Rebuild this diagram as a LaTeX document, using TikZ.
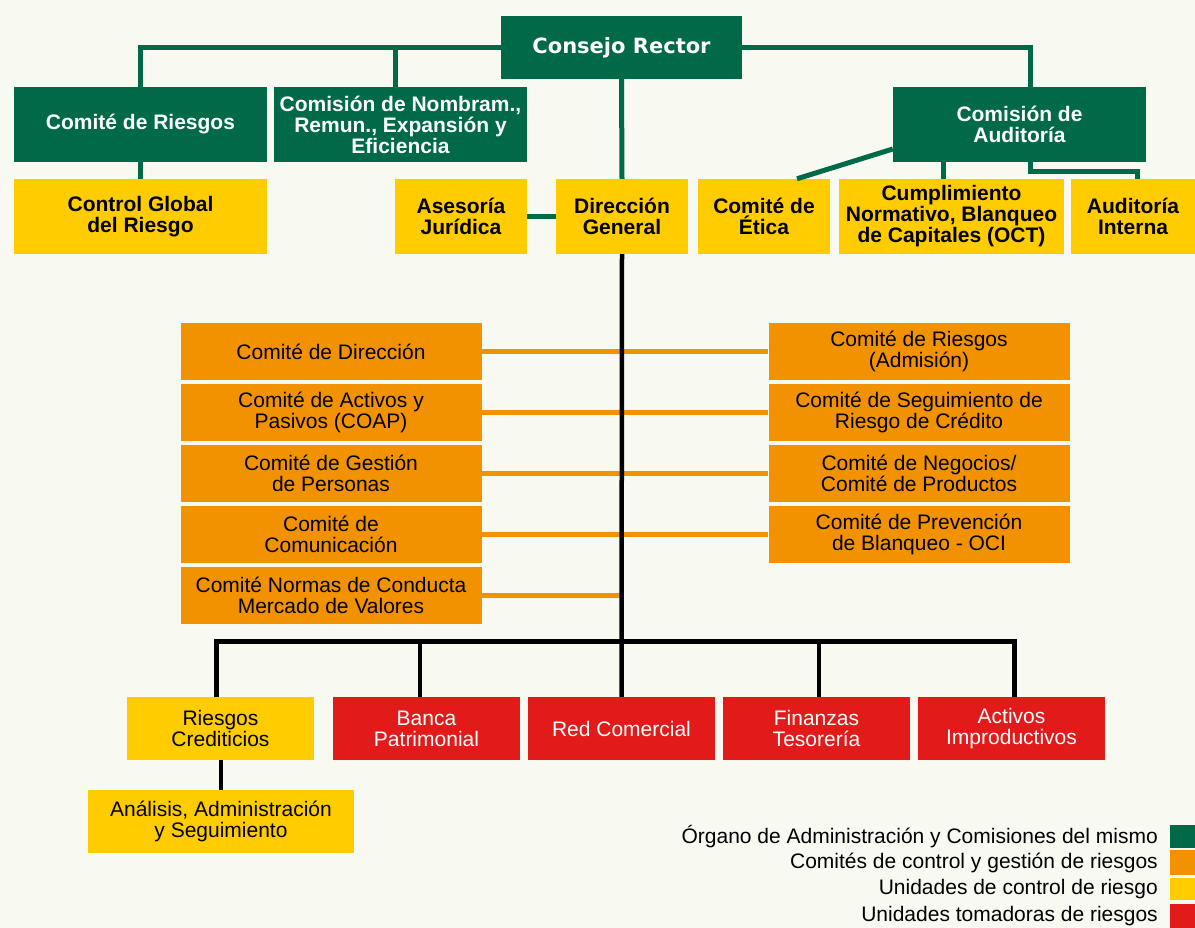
\documentclass[tikz,border=0pt]{standalone}
\usepackage{fontspec}
\setmainfont{Liberation Sans}
\newfontfamily\heavyfont{DejaVu Sans}
\definecolor{cgreen}{RGB}{0,105,72}
\definecolor{corange}{RGB}{242,146,0}
\definecolor{cyellow}{RGB}{255,204,0}
\definecolor{cred}{RGB}{226,26,26}
\definecolor{cbg}{RGB}{248,249,240}
\tikzset{
  box/.style={rectangle, inner sep=0pt, align=center},
  sz/.style 2 args={minimum width=#1, minimum height=#2},
  gbox/.style={box, fill=cgreen, text=white, font=\fontsize{21}{21}\selectfont\bfseries},
  ybold/.style={box, fill=cyellow, text=black, font=\fontsize{21}{21}\selectfont\bfseries},
  ybox/.style={box, fill=cyellow, text=black, font=\fontsize{21}{21}\selectfont},
  obox/.style={box, fill=corange, text=black, font=\fontsize{21}{21}\selectfont},
  rbox/.style={box, fill=cred, text=white, font=\fontsize{21}{21}\selectfont},
  legtext/.style={anchor=east, inner sep=0pt, font=\fontsize{21}{21}\selectfont},
  gline/.style={draw=cgreen, line width=5pt},
  oline/.style={draw=corange, line width=5pt},
  bline/.style={draw=black, line width=4.5pt},
  busline/.style={draw=black, line width=5pt},
}
\begin{document}
\begin{tikzpicture}[x=1pt,y=-1pt]
\fill[cbg] (0,0) rectangle (1195,928);
\useasboundingbox (0,0) rectangle (1195,928);

% top level
\node[gbox, sz={241}{63}, font=\heavyfont\fontsize{21}{21}\selectfont\bfseries] (consejo) at (621.5,47.5) {Consejo Rector};
\node[gbox, sz={253}{75}] (criesgos) at (140.5,124.5) {Comité de Riesgos};
\node[gbox, sz={253}{75}] (comision) at (400.5,124.5) {Comisión de Nombram.,\\Remun., Expansión y\\Eficiencia};
\node[gbox, sz={253}{75}] (audit) at (1019.5,124.5) {Comisión de\\Auditoría};

\node[ybold, sz={253}{75}] (cglobal) at (140.5,216.5) {Control Global\\del Riesgo};
\node[ybold, sz={132}{75}] (asesoria) at (461,216.5) {Asesoría\\Jurídica};
\node[ybold, sz={132}{75}] (direccion) at (622,216.5) {Dirección\\General};
\node[ybold, sz={132}{75}] (etica) at (764,216.5) {Comité de\\Ética};
\node[ybold, sz={225}{75}] (cumpl) at (951.5,216.5) {Cumplimiento\\Normativo, Blanqueo\\de Capitales (OCT)};
\node[ybold, sz={124}{75}] (ainterna) at (1133,216.5) {Auditoría\\Interna};

% green connectors
\draw[gline] (consejo.west) -| (criesgos.north);
\draw[gline] ([xshift=-5.5pt]comision.north) -- ([xshift=-5.5pt]comision.north |- consejo.west);
\draw[gline] (consejo.east) -| ([xshift=10.5pt]audit.north);
\draw[gline] (consejo.south) -- (direccion.north);
\draw[gline] (criesgos.south) -- (cglobal.north);
\draw[gline] (asesoria.east) -- (direccion.west);
\draw[gline] ([yshift=-24.5pt]audit.west) -- ([xshift=33pt]etica.north);
\draw[gline] ([xshift=-76.5pt]audit.south) -- ([xshift=-76.5pt]audit.south |- cumpl.north);
\draw[gline] ([xshift=10.5pt]audit.south) -- ++(0,9) -| ([xshift=4pt]ainterna.north);

% committees
\node[obox, sz={301}{57}] (cdir) at (331,351.5) {Comité de Dirección};
\node[obox, sz={301}{57}] (coap) at (331,412.5) {Comité de Activos y\\Pasivos (COAP)};
\node[obox, sz={301}{57}] (cgp) at (331,473.5) {Comité de Gestión\\de Personas};
\node[obox, sz={301}{57}] (ccom) at (331,534.5) {Comité de\\Comunicación};
\node[obox, sz={301}{57}] (cnorm) at (331,595.5) {Comité Normas de Conducta\\Mercado de Valores};
\node[obox, sz={301}{57}] (cradm) at (919,351.5) {Comité de Riesgos\\(Admisión)};
\node[obox, sz={301}{57}] (cseg) at (919,412.5) {Comité de Seguimiento de\\Riesgo de Crédito};
\node[obox, sz={301}{57}] (cneg) at (919,473.5) {Comité de Negocios/\\Comité de Productos};
\node[obox, sz={301}{57}] (cprev) at (919,534.5) {Comité de Prevención\\de Blanqueo - OCI};

\draw[oline] (cdir.east) -- (cradm.west);
\draw[oline] (coap.east) -- (cseg.west);
\draw[oline] (cgp.east) -- (cneg.west);
\draw[oline] (ccom.east) -- (cprev.west);
\draw[oline] (cnorm.east) -- (cnorm.east -| direccion.south);

% bottom units
\node[ybox, sz={187}{63}] (rcred) at (220.5,728.5) {Riesgos\\Crediticios};
\node[rbox, sz={187}{63}] (banca) at (426.5,728.5) {Banca\\Patrimonial};
\node[rbox, sz={187}{63}] (redc) at (621.5,728.5) {Red Comercial};
\node[rbox, sz={187}{63}] (finanzas) at (816.5,728.5) {Finanzas\\Tesorería};
\node[rbox, sz={187}{63}] (activos) at (1011.5,728.5) {Activos\\Improductivos};
\node[ybox, sz={266}{63}] (analisis) at (221,821.5) {Análisis, Administración\\y Seguimiento};

\coordinate (bus) at (0,641.5);
\draw[bline] (direccion.south) -- (redc.north);
\draw[busline, line join=miter] ([xshift=-4.5pt]rcred.north) -- ([xshift=-4.5pt]rcred.north |- bus) -- ([xshift=2.5pt]activos.north |- bus) -- ([xshift=2.5pt]activos.north);
\draw[bline] ([xshift=-6.5pt]banca.north) -- ([xshift=-6.5pt]banca.north |- bus);
\draw[bline] ([xshift=2.5pt]finanzas.north) -- ([xshift=2.5pt]finanzas.north |- bus);
\draw[bline] (analisis.north) -- (analisis.north |- rcred.south);

% legend
\node[box, fill=cgreen, sz={25}{23}] (lg) at (1182.5,836.5) {};
\node[box, fill=corange, sz={25}{25}] (lo) at (1182.5,862.5) {};
\node[box, fill=cyellow, sz={25}{22}] (ly) at (1182.5,889) {};
\node[box, fill=cred, sz={25}{24}] (lr) at (1182.5,916) {};
\node[legtext] (tg) at (1158,836.5) {Órgano de Administración y Comisiones del mismo};
\node[legtext] (to) at (1158,862.5) {Comités de control y gestión de riesgos};
\node[legtext] (ty) at (1158,889) {Unidades de control de riesgo};
\node[legtext] (tr) at (1158,916) {Unidades tomadoras de riesgos};
\end{tikzpicture}
\end{document}
